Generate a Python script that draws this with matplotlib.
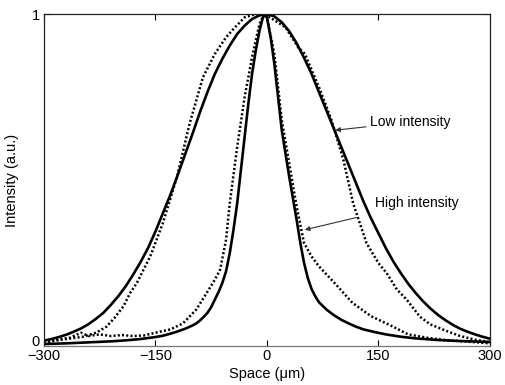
import matplotlib
matplotlib.use("Agg")
import matplotlib.pyplot as plt
import matplotlib.transforms as mtransforms

plt.rcParams['font.family'] = ['Liberation Sans', 'DejaVu Sans']

# Low intensity, theory (solid)
low_x = [-300, -290, -280, -270, -260, -250, -240, -230, -220, -210, -200, -190, -180, -170, -160, -150,
         -140, -130, -120, -110, -100, -90, -80, -70, -60, -50, -40, -30, -20, -10, 0,
         10, 20, 30, 40, 50, 60, 70, 80, 90, 100, 110, 120, 130, 140, 150,
         160, 170, 180, 190, 200, 210, 220, 230, 240, 250, 260, 270, 280, 290, 300]
low_y = [0.016, 0.021, 0.027, 0.034, 0.043, 0.053, 0.066, 0.082, 0.10, 0.124, 0.15, 0.18, 0.215, 0.253, 0.295, 0.345,
         0.40, 0.455, 0.515, 0.578, 0.64, 0.705, 0.765, 0.82, 0.865, 0.905, 0.94, 0.965, 0.985, 0.996, 1.0,
         0.993, 0.975, 0.948, 0.912, 0.868, 0.82, 0.765, 0.71, 0.655, 0.60, 0.545, 0.49, 0.435, 0.385, 0.34,
         0.295, 0.255, 0.22, 0.188, 0.16, 0.135, 0.113, 0.094, 0.078, 0.064, 0.052, 0.043, 0.035, 0.028, 0.022]

# High intensity, theory (solid)
high_x = [-300, -270, -240, -210, -190, -170, -150, -140, -130, -120, -110, -100, -95, -90, -85, -80, -75,
          -70, -65, -60, -55, -50, -45, -40, -35, -30, -25, -20, -15, -10, -6, -3,
          0, 5, 10, 15, 20, 25, 30, 35, 40, 45, 50, 55, 60, 65, 70, 80, 90, 100, 110, 120, 130,
          145, 160, 180, 200, 230, 260, 300]
high_y = [0.006, 0.008, 0.011, 0.014, 0.017, 0.021, 0.027, 0.031, 0.037, 0.044, 0.052, 0.062, 0.068, 0.077,
          0.088, 0.10, 0.117, 0.14, 0.163, 0.19, 0.225, 0.28, 0.35, 0.43, 0.53, 0.63, 0.73, 0.82, 0.89, 0.95,
          0.985, 1.0, 0.99, 0.93, 0.85, 0.75, 0.65, 0.58, 0.51, 0.445, 0.38, 0.31, 0.25, 0.205, 0.172, 0.15,
          0.132, 0.11, 0.093, 0.079, 0.068, 0.058, 0.05, 0.042, 0.035, 0.028, 0.023, 0.018, 0.015, 0.012]

# Low intensity, experiment (dotted)
low_exp_x = [-300, -280, -260, -247, -230, -216, -205, -193, -184, -175, -157, -140, -121, -104, -86, -70,
             -55, -43, -30, -15, 0, 11, 25, 42, 51, 70, 87, 103, 116, 134, 150, 161, 175, 188, 206, 220,
             242, 260, 282, 300]
low_exp_y = [0.01, 0.018, 0.024, 0.028, 0.04, 0.058, 0.085, 0.12, 0.16, 0.19, 0.27, 0.37, 0.51, 0.67, 0.81, 0.88,
             0.93, 0.96, 0.99, 1.0, 0.995, 0.98, 0.96, 0.90, 0.88, 0.78, 0.68, 0.56, 0.43, 0.31, 0.25, 0.22, 0.17,
             0.14, 0.088, 0.065, 0.045, 0.03, 0.018, 0.012]

# High intensity, experiment (dotted)
high_exp_x = [-300, -280, -265, -250, -240, -225, -210, -195, -180, -165, -150, -130, -113, -95, -81, -70,
              -63, -55, -50, -40, -30, -20, -10, -4, 0, 10, 20, 30, 40, 50, 60, 70, 95, 115, 140, 170,
              190, 215, 240, 270, 300]
high_exp_y = [0.008, 0.02, 0.025, 0.04, 0.03, 0.035, 0.03, 0.033, 0.03, 0.032, 0.04, 0.05, 0.068, 0.11, 0.16,
              0.20, 0.23, 0.32, 0.43, 0.60, 0.75, 0.87, 0.97, 1.0, 0.99, 0.88, 0.68, 0.55, 0.42, 0.31, 0.27,
              0.24, 0.18, 0.13, 0.09, 0.058, 0.035, 0.025, 0.018, 0.013, 0.008]

x_ticks = [-300, -150, 0, 150, 300]
y_ticks = [0, 1]

fig = plt.figure(figsize=(5.05, 3.85), dpi=100)
ax = fig.add_axes([0.0871, 0.1013, 0.8829, 0.8623])

ax.plot(low_x, low_y, color='black', lw=1.9, solid_joinstyle='round')
ax.plot(high_x, high_y, color='black', lw=1.9, solid_joinstyle='round')
ax.plot(low_exp_x, low_exp_y, color='black', lw=1.8, linestyle=(0, (0.8, 0.9)))
ax.plot(high_exp_x, high_exp_y, color='black', lw=1.8, linestyle=(0, (0.8, 0.9)))

ax.set_xlim(-300, 300)
ax.set_ylim(0, 1)
ax.set_xticks(x_ticks)
ax.set_yticks(y_ticks)
ax.set_xticklabels(['\u2212300', '\u2212150', '0', '150', '300'])
ax.tick_params(direction='in', length=4, width=0.8, labelsize=10.5, top=True, right=True)
ax.tick_params(axis='x', pad=2)
ax.tick_params(axis='y', pad=3)
for s in ax.spines.values():
    s.set_linewidth(0.9)
    s.set_color('#222222')
ax.spines['bottom'].set_color('#777777')

# nudge the y "0" label up slightly so it clears the x "-300" label
offset = mtransforms.ScaledTranslation(0, 5 / 100, fig.dpi_scale_trans)
for lbl in ax.get_yticklabels():
    if lbl.get_text() == '0':
        lbl.set_transform(lbl.get_transform() + offset)

ax.set_xlabel('Space (\u03bcm)', fontsize=10.5, labelpad=3)
ax.set_ylabel('Intensity (a.u.)', fontsize=10.5, labelpad=9)

ax.annotate('Low intensity', xy=(92, 0.65), xytext=(139, 0.675), fontsize=10,
            va='center', ha='left',
            arrowprops=dict(arrowstyle='-|>', color='#333333', lw=0.8, mutation_scale=7,
                            shrinkA=1, shrinkB=0))
ax.annotate('High intensity', xy=(51, 0.35), xytext=(145, 0.43), fontsize=10,
            va='center', ha='left',
            arrowprops=dict(arrowstyle='-|>', color='#333333', lw=0.8, mutation_scale=7,
                            shrinkA=14, shrinkB=0))

fig.savefig('out.png', dpi=100)
